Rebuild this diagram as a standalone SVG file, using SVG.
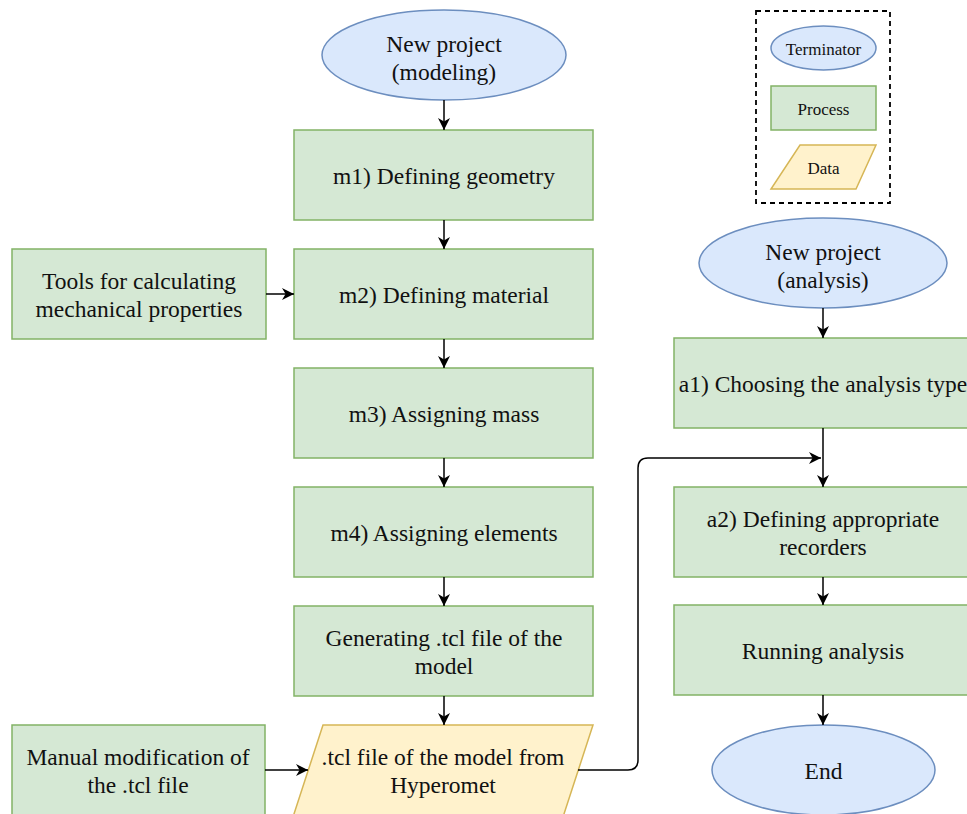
<svg xmlns="http://www.w3.org/2000/svg" width="967" height="814" viewBox="0 0 967 814">
<style>
.term{fill:#dae8fc;stroke:#6c8ebf;stroke-width:1.5}
.proc{fill:#d5e8d4;stroke:#82b366;stroke-width:1.5}
.data{fill:#fff2cc;stroke:#d6b656;stroke-width:1.5}
text{font-family:"Liberation Serif","Times New Roman",serif;font-size:23.5px;fill:#111;text-anchor:middle;dominant-baseline:central}
text.small{font-size:17px}
.conn path{fill:none;stroke:#000;stroke-width:1.5;marker-end:url(#arr)}
</style>
<defs>
<marker id="arr" markerUnits="userSpaceOnUse" markerWidth="12" markerHeight="12" refX="10" refY="5" orient="auto" viewBox="0 0 10 10">
<path d="M0,0 L10,5 L0,10 L3,5 z" fill="#000"/>
</marker>
</defs>
<rect width="967" height="814" fill="#fff"/>
<g id="legend">
<rect x="756" y="11" width="134" height="192" fill="none" stroke="#000" stroke-width="1.8" stroke-dasharray="5,4"/>
<ellipse class="term" cx="823.5" cy="48" rx="52.5" ry="22"/>
<text class="small" x="823.5" y="49">Terminator</text>
<rect class="proc" x="771" y="86" width="105" height="44"/>
<text class="small" x="823.5" y="109">Process</text>
<polygon class="data" points="800,145 876,145 856,189 771,189"/>
<text class="small" x="823.5" y="168">Data</text>
</g>
<g id="start-modeling">
<ellipse class="term" cx="444" cy="55" rx="122" ry="45"/>
<text x="444" y="44">New project</text>
<text x="444" y="72">(modeling)</text>
</g>
<g id="m1">
<rect class="proc" x="294" y="130" width="299" height="90"/>
<text x="444" y="176">m1) Defining geometry</text>
</g>
<g id="tools">
<rect class="proc" x="12" y="249" width="254" height="90"/>
<text x="139" y="281">Tools for calculating</text>
<text x="139" y="309">mechanical properties</text>
</g>
<g id="m2">
<rect class="proc" x="294" y="249" width="299" height="90"/>
<text x="444" y="295">m2) Defining material</text>
</g>
<g id="m3">
<rect class="proc" x="294" y="368" width="299" height="90"/>
<text x="444" y="414">m3) Assigning mass</text>
</g>
<g id="m4">
<rect class="proc" x="294" y="487" width="299" height="90"/>
<text x="444" y="533">m4) Assigning elements</text>
</g>
<g id="generate">
<rect class="proc" x="294" y="606" width="299" height="90"/>
<text x="444" y="638">Generating .tcl file of the</text>
<text x="444" y="666">model</text>
</g>
<g id="manual">
<rect class="proc" x="12" y="725" width="253" height="92"/>
<text x="138" y="757">Manual modification of</text>
<text x="138" y="785">the .tcl file</text>
</g>
<g id="tclfile">
<polygon class="data" points="323,725 593,725 563,817 293,817"/>
<text x="443" y="757">.tcl file of the model from</text>
<text x="443" y="785">Hyperomet</text>
</g>
<g id="start-analysis">
<ellipse class="term" cx="823" cy="263" rx="124" ry="45"/>
<text x="823" y="252">New project</text>
<text x="823" y="280">(analysis)</text>
</g>
<g id="a1">
<rect class="proc" x="674" y="338" width="299" height="90"/>
<text x="823" y="384">a1) Choosing the analysis type</text>
</g>
<g id="a2">
<rect class="proc" x="674" y="487" width="299" height="90"/>
<text x="823" y="519">a2) Defining appropriate</text>
<text x="823" y="547">recorders</text>
</g>
<g id="running">
<rect class="proc" x="674" y="605" width="299" height="90"/>
<text x="823" y="651">Running analysis</text>
</g>
<g id="end">
<ellipse class="term" cx="823.5" cy="770" rx="111.5" ry="45"/>
<text x="823.5" y="771">End</text>
</g>
<g id="connectors" class="conn">
<path d="M444,100 V130"/>
<path d="M444,220 V249"/>
<path d="M444,339 V368"/>
<path d="M444,458 V487"/>
<path d="M444,577 V606"/>
<path d="M444,696 V725"/>
<path d="M266,294 H294"/>
<path d="M265,770 H308"/>
<path d="M578,770 H628 Q638,770 638,760 V468 Q638,458 648,458 H821"/>
<path d="M823,308 V338"/>
<path d="M823,428 V487"/>
<path d="M823,577 V605"/>
<path d="M823,695 V725"/>
</g>
</svg>
